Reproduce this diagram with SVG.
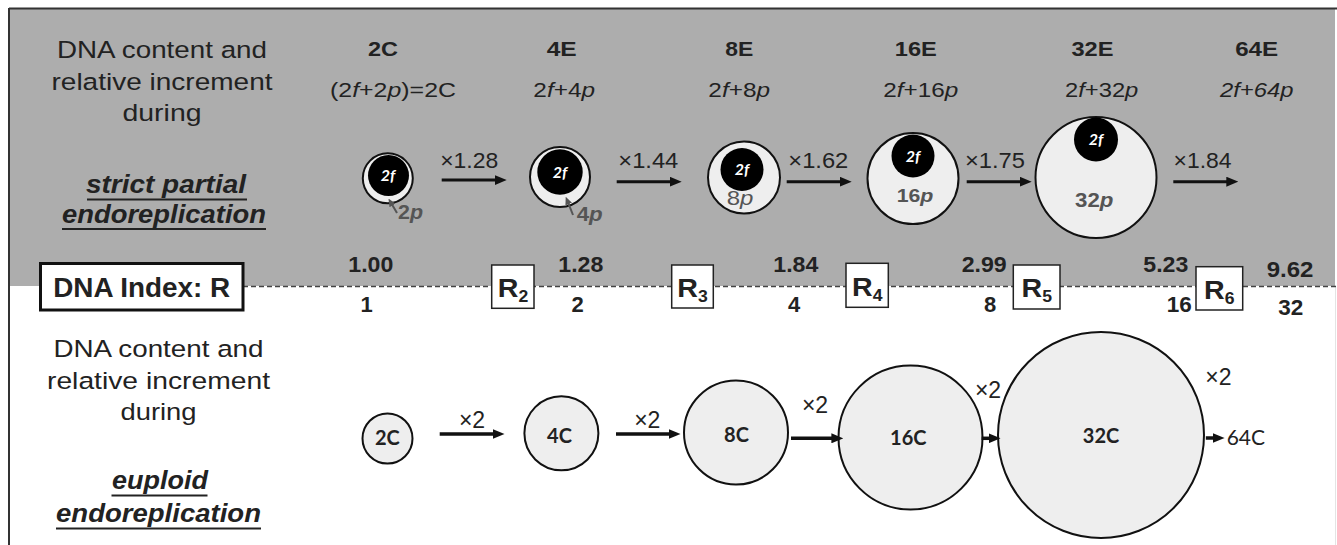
<svg xmlns="http://www.w3.org/2000/svg" width="1337" height="545" viewBox="0 0 1337 545">
<style>
.t{font-family:"Liberation Sans",Arial,sans-serif;fill:#222}
.b{font-weight:bold}
.i{font-style:italic}
.lt{font-family:Lato,"Liberation Sans",sans-serif;font-weight:bold;fill:#222}
.pg{fill:#555}
.ring{fill:#eeeeee;stroke:#111;stroke-width:2}
.core{fill:#000}
.cw{font-family:Lato,"Liberation Sans",sans-serif;font-weight:bold;font-style:italic;fill:#fff;font-size:16px}
.arr{stroke:#111;stroke-width:3;fill:none}
.arrb{stroke:#111;stroke-width:3.5;fill:none}
.ul{stroke:#222;stroke-width:2}
.rbox{fill:#fff;stroke:#222;stroke-width:1.5}
</style>
<defs>
<marker id="ah" viewBox="0 0 12 10" refX="6" refY="5" markerWidth="12" markerHeight="10" markerUnits="userSpaceOnUse" orient="auto"><path d="M0,0 L12,5 L0,10 z" fill="#111"/></marker>
<marker id="ahg" viewBox="0 0 8 7" refX="4" refY="3.5" markerWidth="8" markerHeight="7" markerUnits="userSpaceOnUse" orient="auto"><path d="M0,0 L8,3.5 L0,7 z" fill="#555"/></marker>
</defs>

<!-- background -->
<rect x="9" y="8" width="1326" height="278" fill="#adadad"/>
<line x1="9" y1="8.5" x2="1337" y2="8.5" stroke="#333" stroke-width="2"/>
<line x1="9" y1="8" x2="9" y2="545" stroke="#333" stroke-width="2"/>
<line x1="1335.5" y1="287" x2="1335.5" y2="545" stroke="#e4e4e4" stroke-width="1"/>
<line x1="243" y1="286.5" x2="1337" y2="286.5" stroke="#444" stroke-width="1.5" stroke-dasharray="5 3"/>

<!-- left labels -->
<g id="label-top">
<text class="t" x="162" y="57.5" font-size="24.5" text-anchor="middle" textLength="210" lengthAdjust="spacingAndGlyphs">DNA content and</text>
<text class="t" x="162" y="90" font-size="24.5" text-anchor="middle" textLength="221" lengthAdjust="spacingAndGlyphs">relative increment</text>
<text class="t" x="162" y="121" font-size="24.5" text-anchor="middle" textLength="79" lengthAdjust="spacingAndGlyphs">during</text>
<text class="t b i" x="166" y="193" font-size="26" text-anchor="middle" textLength="160" lengthAdjust="spacingAndGlyphs">strict partial</text>
<line class="ul" x1="87" y1="199.5" x2="247" y2="199.5"/>
<text class="t b i" x="164" y="222.5" font-size="26" text-anchor="middle" textLength="204" lengthAdjust="spacingAndGlyphs">endoreplication</text>
<line class="ul" x1="62" y1="229" x2="266" y2="229"/>
</g>
<g id="label-bottom">
<text class="t" x="158.5" y="356.7" font-size="24.5" text-anchor="middle" textLength="210" lengthAdjust="spacingAndGlyphs">DNA content and</text>
<text class="t" x="158.5" y="389" font-size="24.5" text-anchor="middle" textLength="223" lengthAdjust="spacingAndGlyphs">relative increment</text>
<text class="t" x="158.5" y="420" font-size="24.5" text-anchor="middle" textLength="76" lengthAdjust="spacingAndGlyphs">during</text>
<text class="t b i" x="160" y="489" font-size="26" text-anchor="middle" textLength="96" lengthAdjust="spacingAndGlyphs">euploid</text>
<line class="ul" x1="111.5" y1="495.5" x2="207.5" y2="495.5"/>
<text class="t b i" x="158.5" y="521.5" font-size="26" text-anchor="middle" textLength="205" lengthAdjust="spacingAndGlyphs">endoreplication</text>
<line class="ul" x1="56" y1="528.5" x2="261" y2="528.5"/>
</g>

<!-- column headers -->
<g id="headers">
<text class="t b" x="383" y="56" font-size="21" text-anchor="middle" textLength="30" lengthAdjust="spacingAndGlyphs">2C</text>
<text class="t b" x="561.7" y="56" font-size="21" text-anchor="middle" textLength="30" lengthAdjust="spacingAndGlyphs">4E</text>
<text class="t b" x="739.2" y="56" font-size="21" text-anchor="middle" textLength="28" lengthAdjust="spacingAndGlyphs">8E</text>
<text class="t b" x="915.8" y="56" font-size="21" text-anchor="middle" textLength="42" lengthAdjust="spacingAndGlyphs">16E</text>
<text class="t b" x="1092.5" y="56" font-size="21" text-anchor="middle" textLength="42" lengthAdjust="spacingAndGlyphs">32E</text>
<text class="t b" x="1256.7" y="56" font-size="21" text-anchor="middle" textLength="43" lengthAdjust="spacingAndGlyphs">64E</text>
<text class="t" x="393" y="96.5" font-size="21" text-anchor="middle" textLength="126" lengthAdjust="spacingAndGlyphs">(2<tspan class="i">f</tspan>+2<tspan class="i">p</tspan>)=2C</text>
<text class="t" x="564.2" y="96.5" font-size="21" text-anchor="middle" textLength="61.7" lengthAdjust="spacingAndGlyphs">2<tspan class="i">f</tspan>+4<tspan class="i">p</tspan></text>
<text class="t" x="739.2" y="96.5" font-size="21" text-anchor="middle" textLength="61.7" lengthAdjust="spacingAndGlyphs">2<tspan class="i">f</tspan>+8<tspan class="i">p</tspan></text>
<text class="t" x="920.8" y="96.5" font-size="21" text-anchor="middle" textLength="75" lengthAdjust="spacingAndGlyphs">2<tspan class="i">f</tspan>+16<tspan class="i">p</tspan></text>
<text class="t" x="1101.7" y="96.5" font-size="21" text-anchor="middle" textLength="73.3" lengthAdjust="spacingAndGlyphs">2<tspan class="i">f</tspan>+32<tspan class="i">p</tspan></text>
<text class="t i" x="1256.7" y="96.5" font-size="21" text-anchor="middle" textLength="73.3" lengthAdjust="spacingAndGlyphs">2f+64p</text>
</g>

<!-- top row nodes -->
<g id="top-2C">
<circle class="ring" cx="387.8" cy="178.3" r="25"/>
<circle class="core" cx="388.5" cy="175.5" r="20.5"/>
<text class="cw" x="388" y="181" text-anchor="middle">2f</text>
<line x1="397" y1="213" x2="390.5" y2="202" stroke="#555" stroke-width="2" marker-end="url(#ahg)"/>
<text class="t b pg" x="398" y="219" font-size="20" textLength="25" lengthAdjust="spacingAndGlyphs">2<tspan class="i">p</tspan></text>
</g>
<g id="top-4E">
<circle class="ring" cx="560" cy="177" r="30"/>
<circle class="core" cx="560" cy="172" r="22.7"/>
<text class="cw" x="560" y="177.5" text-anchor="middle">2f</text>
<line x1="573" y1="215" x2="567.2" y2="200.4" stroke="#555" stroke-width="2" marker-end="url(#ahg)"/>
<text class="t b pg" x="576.7" y="221" font-size="20" textLength="26" lengthAdjust="spacingAndGlyphs">4<tspan class="i">p</tspan></text>
</g>
<g id="top-8E">
<circle class="ring" cx="744" cy="177.5" r="36"/>
<circle class="core" cx="742" cy="169.5" r="21.5"/>
<text class="cw" x="742" y="175" text-anchor="middle">2f</text>
<text class="t pg" x="740" y="204.5" font-size="21" text-anchor="middle" textLength="26.7" lengthAdjust="spacingAndGlyphs">8<tspan class="i">p</tspan></text>
</g>
<g id="top-16E">
<circle class="ring" cx="913" cy="178.5" r="45.5"/>
<circle class="core" cx="913" cy="156" r="21.5"/>
<text class="cw" x="913" y="162" text-anchor="middle">2f</text>
<text class="t b pg" x="915" y="202" font-size="19" text-anchor="middle" textLength="36.7" lengthAdjust="spacingAndGlyphs">16<tspan class="i">p</tspan></text>
</g>
<g id="top-32E">
<circle class="ring" cx="1096" cy="177.5" r="60.5"/>
<circle class="core" cx="1096" cy="139.5" r="22"/>
<text class="cw" x="1096" y="145" text-anchor="middle">2f</text>
<text class="t b pg" x="1094.2" y="206.7" font-size="20" text-anchor="middle" textLength="38.3" lengthAdjust="spacingAndGlyphs">32<tspan class="i">p</tspan></text>
</g>

<!-- DNA index row -->
<g id="dna-index">
<rect x="40.5" y="263.5" width="202.5" height="46.5" fill="#fff" stroke="#111" stroke-width="3"/>
<text class="t b" x="141.7" y="296.7" font-size="27" text-anchor="middle" textLength="177" lengthAdjust="spacingAndGlyphs" fill="#111">DNA Index: R</text>
</g>
<g id="index-values">
<text class="t b" x="370.8" y="271.7" font-size="22" text-anchor="middle" textLength="45" lengthAdjust="spacingAndGlyphs">1.00</text>
<text class="t b" x="580.8" y="271.7" font-size="22" text-anchor="middle" textLength="45" lengthAdjust="spacingAndGlyphs">1.28</text>
<text class="t b" x="795.8" y="271.7" font-size="22" text-anchor="middle" textLength="45" lengthAdjust="spacingAndGlyphs">1.84</text>
<text class="t b" x="984.2" y="271.7" font-size="22" text-anchor="middle" textLength="45" lengthAdjust="spacingAndGlyphs">2.99</text>
<text class="t b" x="1165.8" y="271.7" font-size="22" text-anchor="middle" textLength="45" lengthAdjust="spacingAndGlyphs">5.23</text>
<text class="t b" x="1290" y="276.7" font-size="22" text-anchor="middle" textLength="46.7" lengthAdjust="spacingAndGlyphs">9.62</text>
<text class="t b" x="366.7" y="311.7" font-size="22" text-anchor="middle">1</text>
<text class="t b" x="577.5" y="311.7" font-size="22" text-anchor="middle">2</text>
<text class="t b" x="794" y="311.7" font-size="22" text-anchor="middle">4</text>
<text class="t b" x="990" y="311.7" font-size="22" text-anchor="middle">8</text>
<text class="t b" x="1179.2" y="311.7" font-size="22" text-anchor="middle" textLength="25" lengthAdjust="spacingAndGlyphs">16</text>
<text class="t b" x="1290.8" y="315" font-size="22" text-anchor="middle" textLength="25" lengthAdjust="spacingAndGlyphs">32</text>
</g>
<g id="R2"><rect class="rbox" x="491.7" y="265" width="42.3" height="43.3"/><text class="t b" font-size="26" text-anchor="middle" transform="translate(513,297) scale(1.1,1)" fill="#111">R<tspan font-size="16" dy="5">2</tspan></text></g>
<g id="R3"><rect class="rbox" x="671.7" y="265" width="41.6" height="43"/><text class="t b" font-size="26" text-anchor="middle" transform="translate(692.5,297) scale(1.1,1)" fill="#111">R<tspan font-size="16" dy="5">3</tspan></text></g>
<g id="R4"><rect class="rbox" x="846" y="263.3" width="42.3" height="44"/><text class="t b" font-size="26" text-anchor="middle" transform="translate(867.2,295.5) scale(1.1,1)" fill="#111">R<tspan font-size="16" dy="5">4</tspan></text></g>
<g id="R5"><rect class="rbox" x="1013.3" y="265" width="46.7" height="44"/><text class="t b" font-size="26" text-anchor="middle" transform="translate(1036.7,297) scale(1.1,1)" fill="#111">R<tspan font-size="16" dy="5">5</tspan></text></g>
<g id="R6"><rect class="rbox" x="1196" y="266.7" width="46.7" height="43.3"/><text class="t b" font-size="26" text-anchor="middle" transform="translate(1219.3,298.5) scale(1.1,1)" fill="#111">R<tspan font-size="16" dy="5">6</tspan></text></g>

<!-- bottom row nodes -->
<g id="bot-2C"><circle class="ring" cx="387.5" cy="438.5" r="25"/><text class="lt" x="387.3" y="445" font-size="20" text-anchor="middle">2C</text></g>
<g id="bot-4C"><circle class="ring" cx="561.4" cy="433.3" r="37"/><text class="lt" x="559.5" y="443" font-size="20" text-anchor="middle">4C</text></g>
<g id="bot-8C"><circle class="ring" cx="736" cy="432.5" r="52"/><text class="lt" x="736.5" y="441.7" font-size="20" text-anchor="middle">8C</text></g>
<g id="bot-16C"><circle class="ring" cx="910.5" cy="437.5" r="72"/><text class="lt" x="908.3" y="445" font-size="20" text-anchor="middle">16C</text></g>
<g id="bot-32C"><circle class="ring" cx="1101" cy="435" r="103"/><text class="lt" x="1101" y="443.3" font-size="20" text-anchor="middle">32C</text></g>
<g id="bot-64C"><text class="lt" x="1226.7" y="445" font-size="21" style="font-weight:normal">64C</text></g>

<!-- connectors -->
<g id="connectors">
<line class="arr" x1="441.7" y1="180" x2="500.7" y2="180" marker-end="url(#ah)"/>
<line class="arr" x1="616.7" y1="181.7" x2="675.7" y2="181.7" marker-end="url(#ah)"/>
<line class="arr" x1="786.7" y1="181.7" x2="845.7" y2="181.7" marker-end="url(#ah)"/>
<line class="arr" x1="966.7" y1="181.7" x2="1025.7" y2="181.7" marker-end="url(#ah)"/>
<line class="arr" x1="1173.3" y1="181.7" x2="1232.3" y2="181.7" marker-end="url(#ah)"/>
<text class="t" x="469.2" y="168" font-size="22" text-anchor="middle" textLength="58" lengthAdjust="spacingAndGlyphs">×1.28</text>
<text class="t" x="648.3" y="168" font-size="22" text-anchor="middle" textLength="60" lengthAdjust="spacingAndGlyphs">×1.44</text>
<text class="t" x="818.3" y="168" font-size="22" text-anchor="middle" textLength="60" lengthAdjust="spacingAndGlyphs">×1.62</text>
<text class="t" x="995" y="168" font-size="22" text-anchor="middle" textLength="60" lengthAdjust="spacingAndGlyphs">×1.75</text>
<text class="t" x="1202.5" y="168" font-size="22" text-anchor="middle" textLength="58" lengthAdjust="spacingAndGlyphs">×1.84</text>

<line class="arrb" x1="439.7" y1="434" x2="498.5" y2="434" marker-end="url(#ah)"/>
<line class="arrb" x1="616" y1="434" x2="674.5" y2="434" marker-end="url(#ah)"/>
<line class="arrb" x1="791" y1="438.3" x2="837.4" y2="438.3" marker-end="url(#ah)"/>
<line class="arrb" x1="981.6" y1="438.3" x2="994.5" y2="438.3" marker-end="url(#ah)"/>
<line class="arrb" x1="1205.8" y1="438" x2="1218.6" y2="438" marker-end="url(#ah)"/>
<text class="t" x="472" y="428" font-size="23" text-anchor="middle">×2</text>
<text class="t" x="647.3" y="428" font-size="23" text-anchor="middle">×2</text>
<text class="t" x="815" y="413" font-size="23" text-anchor="middle">×2</text>
<text class="t" x="988" y="398" font-size="23" text-anchor="middle">×2</text>
<text class="t" x="1218.4" y="385" font-size="23" text-anchor="middle">×2</text>
</g>
</svg>
